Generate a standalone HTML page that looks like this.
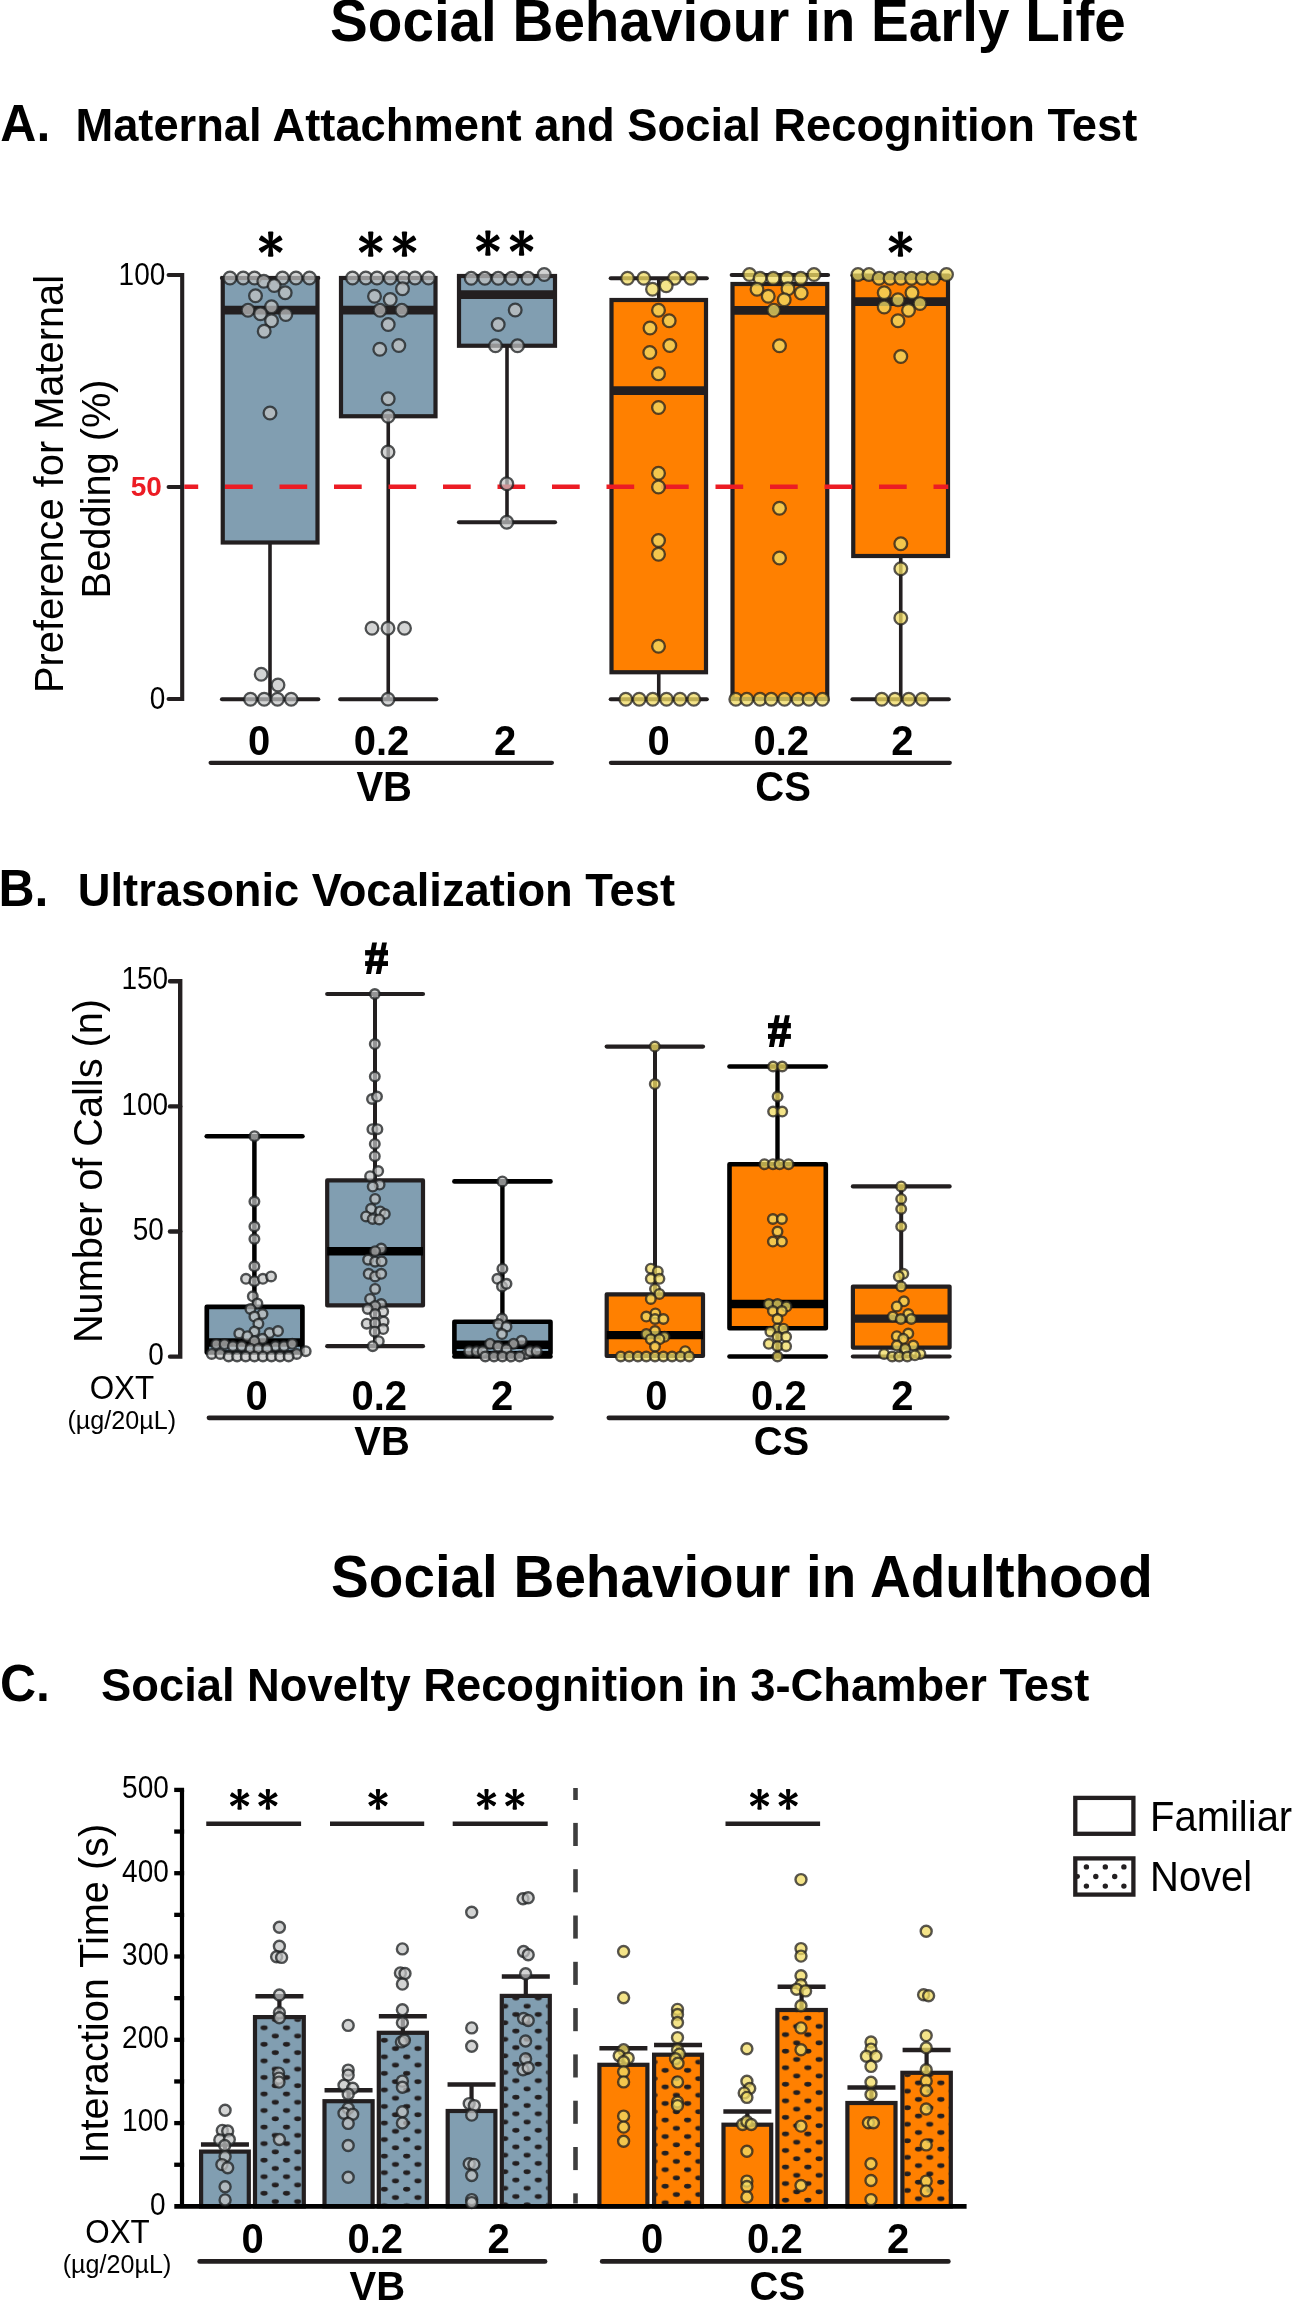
<!DOCTYPE html>
<html><head><meta charset="utf-8"><title>Social Behaviour</title>
<style>
html,body{margin:0;padding:0;background:#fff;}
body{width:1292px;height:2300px;overflow:hidden;}
svg{display:block;font-family:"Liberation Sans", sans-serif;will-change:transform;}
.g{fill:rgba(194,196,196,0.72);stroke:rgba(30,32,34,0.77);}
.y{fill:rgba(240,220,100,0.76);stroke:rgba(35,33,30,0.76);}
</style></head><body>
<svg width="1292" height="2300" viewBox="0 0 1292 2300">
<rect width="1292" height="2300" fill="#fff"/>
<text transform="translate(330.10,40.60) scale(1,1.04)" font-size="56.6" font-weight="bold" text-anchor="start" fill="#000" >Social Behaviour in Early Life</text>
<text transform="translate(331.10,1596.60) scale(1,1.04)" font-size="56.6" font-weight="bold" text-anchor="start" fill="#000" >Social Behaviour in Adulthood</text>
<text transform="translate(0.30,141.25) scale(1,1.04)" font-size="50" font-weight="bold" text-anchor="start" fill="#000" >A.</text>
<text transform="translate(75.40,141.25) scale(1,1.04)" font-size="45.3" font-weight="bold" text-anchor="start" fill="#000" >Maternal Attachment and Social Recognition Test</text>
<text transform="translate(-1.50,906.25) scale(1,1.04)" font-size="50" font-weight="bold" text-anchor="start" fill="#000" >B.</text>
<text transform="translate(77.80,906.25) scale(1,1.04)" font-size="45.3" font-weight="bold" text-anchor="start" fill="#000" >Ultrasonic Vocalization Test</text>
<text transform="translate(0.00,1701.00) scale(1,1.04)" font-size="50" font-weight="bold" text-anchor="start" fill="#000" >C.</text>
<text transform="translate(101.10,1701.00) scale(1,1.04)" font-size="45.3" font-weight="bold" text-anchor="start" fill="#000" >Social Novelty Recognition in 3-Chamber Test</text>
<text transform="translate(63.00,484.00) rotate(-90) scale(1,1.04)" font-size="39.8" font-weight="normal" text-anchor="middle" fill="#000" >Preference for Maternal</text>
<text transform="translate(110.00,488.90) rotate(-90) scale(1,1.04)" font-size="39.8" font-weight="normal" text-anchor="middle" fill="#000" >Bedding (%)</text>
<polyline points="168.6,275 182.2,275 182.2,699 168.6,699" fill="none" stroke="#231f20" stroke-width="4.1" stroke-linecap="round" stroke-linejoin="miter"/>
<line x1="168.60" y1="487.00" x2="182.20" y2="487.00" stroke="#231f20" stroke-width="4.1" stroke-linecap="round" />
<text transform="translate(165.30,284.80) scale(1,1.09)" font-size="28" font-weight="normal" text-anchor="end" fill="#000" >100</text>
<text transform="translate(161.80,496.20) scale(1,1.02)" font-size="28" font-weight="bold" text-anchor="end" fill="#ec1c24" >50</text>
<text transform="translate(165.30,708.80) scale(1,1.09)" font-size="28" font-weight="normal" text-anchor="end" fill="#000" >0</text>
<line x1="270.00" y1="278.00" x2="270.00" y2="699.25" stroke="#231f20" stroke-width="3.6" stroke-linecap="butt" />
<line x1="222.00" y1="278.00" x2="318.25" y2="278.00" stroke="#231f20" stroke-width="4.2" stroke-linecap="round" />
<line x1="222.00" y1="699.25" x2="318.25" y2="699.25" stroke="#231f20" stroke-width="4.2" stroke-linecap="round" />
<rect x="222.75" y="278.00" width="94.75" height="264.50" fill="#819eb1" stroke="#231f20" stroke-width="4.2" stroke-linejoin="miter" />
<line x1="222.75" y1="310.00" x2="317.50" y2="310.00" stroke="#231f20" stroke-width="8.75" stroke-linecap="butt" />
<line x1="388.25" y1="278.00" x2="388.25" y2="699.25" stroke="#231f20" stroke-width="3.6" stroke-linecap="butt" />
<line x1="340.25" y1="699.25" x2="436.25" y2="699.25" stroke="#231f20" stroke-width="4.2" stroke-linecap="round" />
<rect x="341.00" y="278.00" width="94.50" height="138.25" fill="#819eb1" stroke="#231f20" stroke-width="4.2" stroke-linejoin="miter" />
<line x1="341.00" y1="310.00" x2="435.50" y2="310.00" stroke="#231f20" stroke-width="8.75" stroke-linecap="butt" />
<line x1="507.00" y1="277.00" x2="507.00" y2="522.25" stroke="#231f20" stroke-width="3.6" stroke-linecap="butt" />
<line x1="459.00" y1="277.00" x2="555.00" y2="277.00" stroke="#231f20" stroke-width="4.2" stroke-linecap="round" />
<line x1="459.00" y1="522.25" x2="555.00" y2="522.25" stroke="#231f20" stroke-width="4.2" stroke-linecap="round" />
<rect x="459.00" y="276.00" width="96.00" height="69.75" fill="#819eb1" stroke="#231f20" stroke-width="4.2" stroke-linejoin="miter" />
<line x1="459.00" y1="294.50" x2="555.00" y2="294.50" stroke="#231f20" stroke-width="8.75" stroke-linecap="butt" />
<line x1="658.75" y1="278.25" x2="658.75" y2="699.25" stroke="#231f20" stroke-width="3.6" stroke-linecap="butt" />
<line x1="610.75" y1="278.25" x2="706.75" y2="278.25" stroke="#231f20" stroke-width="4.2" stroke-linecap="round" />
<line x1="610.75" y1="699.25" x2="706.75" y2="699.25" stroke="#231f20" stroke-width="4.2" stroke-linecap="round" />
<rect x="611.50" y="300.00" width="94.50" height="372.25" fill="#ff8000" stroke="#231f20" stroke-width="4.2" stroke-linejoin="miter" />
<line x1="611.50" y1="390.60" x2="706.00" y2="390.60" stroke="#231f20" stroke-width="8.75" stroke-linecap="butt" />
<line x1="779.90" y1="275.00" x2="779.90" y2="699.00" stroke="#231f20" stroke-width="3.6" stroke-linecap="butt" />
<line x1="731.75" y1="275.00" x2="828.00" y2="275.00" stroke="#231f20" stroke-width="4.2" stroke-linecap="round" />
<rect x="732.50" y="284.00" width="94.75" height="415.00" fill="#ff8000" stroke="#231f20" stroke-width="4.2" stroke-linejoin="miter" />
<line x1="732.50" y1="310.40" x2="827.25" y2="310.40" stroke="#231f20" stroke-width="8.75" stroke-linecap="butt" />
<line x1="900.75" y1="275.50" x2="900.75" y2="699.25" stroke="#231f20" stroke-width="3.6" stroke-linecap="butt" />
<line x1="852.50" y1="275.50" x2="948.75" y2="275.50" stroke="#231f20" stroke-width="4.2" stroke-linecap="round" />
<line x1="852.50" y1="699.25" x2="948.75" y2="699.25" stroke="#231f20" stroke-width="4.2" stroke-linecap="round" />
<rect x="853.25" y="278.00" width="94.75" height="278.00" fill="#ff8000" stroke="#231f20" stroke-width="4.2" stroke-linejoin="miter" />
<line x1="853.25" y1="301.60" x2="948.00" y2="301.60" stroke="#231f20" stroke-width="8.75" stroke-linecap="butt" />
<line x1="184.3" y1="486.75" x2="948.3" y2="486.75" stroke="#ec1c24" stroke-width="4.6" stroke-dasharray="27.7 26.8" stroke-dashoffset="13.8"/>
<g class="g" stroke-width="2.3">
<circle cx="230.0" cy="278.0" r="6.35"/>
<circle cx="243.2" cy="278.0" r="6.35"/>
<circle cx="254.5" cy="278.0" r="6.35"/>
<circle cx="282.5" cy="278.0" r="6.35"/>
<circle cx="296.0" cy="278.0" r="6.35"/>
<circle cx="309.5" cy="278.0" r="6.35"/>
<circle cx="263.8" cy="281.2" r="6.35"/>
<circle cx="274.2" cy="285.5" r="6.35"/>
<circle cx="285.2" cy="292.8" r="6.35"/>
<circle cx="255.5" cy="295.8" r="6.35"/>
<circle cx="271.5" cy="306.8" r="6.35"/>
<circle cx="248.0" cy="310.2" r="6.35"/>
<circle cx="260.5" cy="313.8" r="6.35"/>
<circle cx="285.8" cy="314.5" r="6.35"/>
<circle cx="271.5" cy="320.8" r="6.35"/>
<circle cx="264.2" cy="331.2" r="6.35"/>
<circle cx="270.0" cy="413.0" r="6.35"/>
<circle cx="261.2" cy="674.2" r="6.35"/>
<circle cx="278.0" cy="685.0" r="6.35"/>
<circle cx="250.5" cy="699.2" r="6.35"/>
<circle cx="264.2" cy="699.2" r="6.35"/>
<circle cx="277.5" cy="699.2" r="6.35"/>
<circle cx="291.2" cy="699.2" r="6.35"/>
<circle cx="352.5" cy="278.0" r="6.35"/>
<circle cx="365.8" cy="278.0" r="6.35"/>
<circle cx="377.0" cy="278.0" r="6.35"/>
<circle cx="390.2" cy="278.0" r="6.35"/>
<circle cx="403.8" cy="278.0" r="6.35"/>
<circle cx="415.0" cy="278.0" r="6.35"/>
<circle cx="428.5" cy="278.0" r="6.35"/>
<circle cx="402.5" cy="288.8" r="6.35"/>
<circle cx="374.5" cy="296.2" r="6.35"/>
<circle cx="390.2" cy="299.5" r="6.35"/>
<circle cx="380.0" cy="310.2" r="6.35"/>
<circle cx="401.8" cy="310.2" r="6.35"/>
<circle cx="388.2" cy="324.5" r="6.35"/>
<circle cx="398.8" cy="345.5" r="6.35"/>
<circle cx="379.8" cy="349.2" r="6.35"/>
<circle cx="388.2" cy="398.8" r="6.35"/>
<circle cx="388.2" cy="416.2" r="6.35"/>
<circle cx="388.0" cy="452.0" r="6.35"/>
<circle cx="372.0" cy="628.2" r="6.35"/>
<circle cx="388.0" cy="628.2" r="6.35"/>
<circle cx="404.5" cy="628.2" r="6.35"/>
<circle cx="388.0" cy="699.2" r="6.35"/>
<circle cx="471.2" cy="278.2" r="6.35"/>
<circle cx="484.8" cy="278.2" r="6.35"/>
<circle cx="498.2" cy="278.2" r="6.35"/>
<circle cx="511.8" cy="278.2" r="6.35"/>
<circle cx="528.0" cy="278.2" r="6.35"/>
<circle cx="544.2" cy="274.5" r="6.35"/>
<circle cx="515.2" cy="310.0" r="6.35"/>
<circle cx="498.2" cy="324.5" r="6.35"/>
<circle cx="495.5" cy="345.8" r="6.35"/>
<circle cx="517.5" cy="345.8" r="6.35"/>
<circle cx="506.8" cy="483.8" r="6.35"/>
<circle cx="506.8" cy="522.2" r="6.35"/>
</g>
<g class="y" stroke-width="2.3">
<circle cx="627.5" cy="278.2" r="6.35"/>
<circle cx="643.8" cy="278.2" r="6.35"/>
<circle cx="674.5" cy="278.2" r="6.35"/>
<circle cx="690.8" cy="278.2" r="6.35"/>
<circle cx="652.5" cy="289.2" r="6.35"/>
<circle cx="666.2" cy="285.8" r="6.35"/>
<circle cx="658.5" cy="310.2" r="6.35"/>
<circle cx="669.2" cy="320.8" r="6.35"/>
<circle cx="650.0" cy="328.0" r="6.35"/>
<circle cx="669.8" cy="345.5" r="6.35"/>
<circle cx="649.8" cy="352.5" r="6.35"/>
<circle cx="658.5" cy="373.8" r="6.35"/>
<circle cx="658.5" cy="407.5" r="6.35"/>
<circle cx="658.5" cy="473.2" r="6.35"/>
<circle cx="658.5" cy="487.0" r="6.35"/>
<circle cx="658.5" cy="540.5" r="6.35"/>
<circle cx="658.5" cy="554.2" r="6.35"/>
<circle cx="658.5" cy="646.2" r="6.35"/>
<circle cx="625.8" cy="699.2" r="6.35"/>
<circle cx="639.2" cy="699.2" r="6.35"/>
<circle cx="652.8" cy="699.2" r="6.35"/>
<circle cx="666.5" cy="699.2" r="6.35"/>
<circle cx="680.0" cy="699.2" r="6.35"/>
<circle cx="693.8" cy="699.2" r="6.35"/>
<circle cx="749.5" cy="274.5" r="6.35"/>
<circle cx="760.0" cy="278.2" r="6.35"/>
<circle cx="773.2" cy="278.2" r="6.35"/>
<circle cx="787.0" cy="278.2" r="6.35"/>
<circle cx="800.8" cy="278.2" r="6.35"/>
<circle cx="814.0" cy="274.5" r="6.35"/>
<circle cx="757.0" cy="289.2" r="6.35"/>
<circle cx="788.0" cy="288.8" r="6.35"/>
<circle cx="801.2" cy="293.0" r="6.35"/>
<circle cx="768.2" cy="296.2" r="6.35"/>
<circle cx="784.2" cy="299.8" r="6.35"/>
<circle cx="773.8" cy="310.2" r="6.35"/>
<circle cx="779.5" cy="345.8" r="6.35"/>
<circle cx="779.5" cy="508.2" r="6.35"/>
<circle cx="779.5" cy="558.0" r="6.35"/>
<circle cx="735.8" cy="699.2" r="6.35"/>
<circle cx="746.8" cy="699.2" r="6.35"/>
<circle cx="760.0" cy="699.2" r="6.35"/>
<circle cx="771.2" cy="699.2" r="6.35"/>
<circle cx="784.5" cy="699.2" r="6.35"/>
<circle cx="798.0" cy="699.2" r="6.35"/>
<circle cx="809.0" cy="699.2" r="6.35"/>
<circle cx="822.5" cy="699.2" r="6.35"/>
<circle cx="858.0" cy="274.5" r="6.35"/>
<circle cx="869.0" cy="274.5" r="6.35"/>
<circle cx="879.0" cy="278.2" r="6.35"/>
<circle cx="890.0" cy="278.2" r="6.35"/>
<circle cx="900.8" cy="278.2" r="6.35"/>
<circle cx="911.5" cy="278.2" r="6.35"/>
<circle cx="922.2" cy="278.2" r="6.35"/>
<circle cx="933.2" cy="278.2" r="6.35"/>
<circle cx="946.5" cy="274.5" r="6.35"/>
<circle cx="884.2" cy="292.8" r="6.35"/>
<circle cx="912.0" cy="292.8" r="6.35"/>
<circle cx="898.0" cy="299.8" r="6.35"/>
<circle cx="920.0" cy="303.5" r="6.35"/>
<circle cx="884.2" cy="307.0" r="6.35"/>
<circle cx="908.5" cy="310.2" r="6.35"/>
<circle cx="898.0" cy="320.8" r="6.35"/>
<circle cx="900.8" cy="356.5" r="6.35"/>
<circle cx="900.8" cy="543.8" r="6.35"/>
<circle cx="900.8" cy="568.8" r="6.35"/>
<circle cx="900.8" cy="618.0" r="6.35"/>
<circle cx="881.8" cy="699.2" r="6.35"/>
<circle cx="895.0" cy="699.2" r="6.35"/>
<circle cx="908.8" cy="699.2" r="6.35"/>
<circle cx="922.2" cy="699.2" r="6.35"/>
</g>
<g transform="translate(270.70,244.15)" fill="#000"><polygon points="-1.60,0 -2.70,-11.95 -2.00,-12.65 2.00,-12.65 2.70,-11.95 1.60,0" transform="rotate(0)"/><polygon points="-1.60,0 -2.70,-11.95 -2.00,-12.65 2.00,-12.65 2.70,-11.95 1.60,0" transform="rotate(58)"/><polygon points="-1.60,0 -2.70,-11.95 -2.00,-12.65 2.00,-12.65 2.70,-11.95 1.60,0" transform="rotate(122)"/><polygon points="-1.60,0 -2.70,-11.95 -2.00,-12.65 2.00,-12.65 2.70,-11.95 1.60,0" transform="rotate(180)"/><polygon points="-1.60,0 -2.70,-11.95 -2.00,-12.65 2.00,-12.65 2.70,-11.95 1.60,0" transform="rotate(238)"/><polygon points="-1.60,0 -2.70,-11.95 -2.00,-12.65 2.00,-12.65 2.70,-11.95 1.60,0" transform="rotate(302)"/></g>
<g transform="translate(370.73,244.15)" fill="#000"><polygon points="-1.60,0 -2.70,-11.95 -2.00,-12.65 2.00,-12.65 2.70,-11.95 1.60,0" transform="rotate(0)"/><polygon points="-1.60,0 -2.70,-11.95 -2.00,-12.65 2.00,-12.65 2.70,-11.95 1.60,0" transform="rotate(58)"/><polygon points="-1.60,0 -2.70,-11.95 -2.00,-12.65 2.00,-12.65 2.70,-11.95 1.60,0" transform="rotate(122)"/><polygon points="-1.60,0 -2.70,-11.95 -2.00,-12.65 2.00,-12.65 2.70,-11.95 1.60,0" transform="rotate(180)"/><polygon points="-1.60,0 -2.70,-11.95 -2.00,-12.65 2.00,-12.65 2.70,-11.95 1.60,0" transform="rotate(238)"/><polygon points="-1.60,0 -2.70,-11.95 -2.00,-12.65 2.00,-12.65 2.70,-11.95 1.60,0" transform="rotate(302)"/></g>
<g transform="translate(404.47,244.15)" fill="#000"><polygon points="-1.60,0 -2.70,-11.95 -2.00,-12.65 2.00,-12.65 2.70,-11.95 1.60,0" transform="rotate(0)"/><polygon points="-1.60,0 -2.70,-11.95 -2.00,-12.65 2.00,-12.65 2.70,-11.95 1.60,0" transform="rotate(58)"/><polygon points="-1.60,0 -2.70,-11.95 -2.00,-12.65 2.00,-12.65 2.70,-11.95 1.60,0" transform="rotate(122)"/><polygon points="-1.60,0 -2.70,-11.95 -2.00,-12.65 2.00,-12.65 2.70,-11.95 1.60,0" transform="rotate(180)"/><polygon points="-1.60,0 -2.70,-11.95 -2.00,-12.65 2.00,-12.65 2.70,-11.95 1.60,0" transform="rotate(238)"/><polygon points="-1.60,0 -2.70,-11.95 -2.00,-12.65 2.00,-12.65 2.70,-11.95 1.60,0" transform="rotate(302)"/></g>
<g transform="translate(487.90,243.07)" fill="#000"><polygon points="-1.60,0 -2.70,-11.95 -2.00,-12.65 2.00,-12.65 2.70,-11.95 1.60,0" transform="rotate(0)"/><polygon points="-1.60,0 -2.70,-11.95 -2.00,-12.65 2.00,-12.65 2.70,-11.95 1.60,0" transform="rotate(58)"/><polygon points="-1.60,0 -2.70,-11.95 -2.00,-12.65 2.00,-12.65 2.70,-11.95 1.60,0" transform="rotate(122)"/><polygon points="-1.60,0 -2.70,-11.95 -2.00,-12.65 2.00,-12.65 2.70,-11.95 1.60,0" transform="rotate(180)"/><polygon points="-1.60,0 -2.70,-11.95 -2.00,-12.65 2.00,-12.65 2.70,-11.95 1.60,0" transform="rotate(238)"/><polygon points="-1.60,0 -2.70,-11.95 -2.00,-12.65 2.00,-12.65 2.70,-11.95 1.60,0" transform="rotate(302)"/></g>
<g transform="translate(521.56,243.07)" fill="#000"><polygon points="-1.60,0 -2.70,-11.95 -2.00,-12.65 2.00,-12.65 2.70,-11.95 1.60,0" transform="rotate(0)"/><polygon points="-1.60,0 -2.70,-11.95 -2.00,-12.65 2.00,-12.65 2.70,-11.95 1.60,0" transform="rotate(58)"/><polygon points="-1.60,0 -2.70,-11.95 -2.00,-12.65 2.00,-12.65 2.70,-11.95 1.60,0" transform="rotate(122)"/><polygon points="-1.60,0 -2.70,-11.95 -2.00,-12.65 2.00,-12.65 2.70,-11.95 1.60,0" transform="rotate(180)"/><polygon points="-1.60,0 -2.70,-11.95 -2.00,-12.65 2.00,-12.65 2.70,-11.95 1.60,0" transform="rotate(238)"/><polygon points="-1.60,0 -2.70,-11.95 -2.00,-12.65 2.00,-12.65 2.70,-11.95 1.60,0" transform="rotate(302)"/></g>
<g transform="translate(900.46,244.15)" fill="#000"><polygon points="-1.60,0 -2.70,-11.95 -2.00,-12.65 2.00,-12.65 2.70,-11.95 1.60,0" transform="rotate(0)"/><polygon points="-1.60,0 -2.70,-11.95 -2.00,-12.65 2.00,-12.65 2.70,-11.95 1.60,0" transform="rotate(58)"/><polygon points="-1.60,0 -2.70,-11.95 -2.00,-12.65 2.00,-12.65 2.70,-11.95 1.60,0" transform="rotate(122)"/><polygon points="-1.60,0 -2.70,-11.95 -2.00,-12.65 2.00,-12.65 2.70,-11.95 1.60,0" transform="rotate(180)"/><polygon points="-1.60,0 -2.70,-11.95 -2.00,-12.65 2.00,-12.65 2.70,-11.95 1.60,0" transform="rotate(238)"/><polygon points="-1.60,0 -2.70,-11.95 -2.00,-12.65 2.00,-12.65 2.70,-11.95 1.60,0" transform="rotate(302)"/></g>
<text transform="translate(259.20,754.50) scale(1,1.07)" font-size="40" font-weight="bold" text-anchor="middle" fill="#000" >0</text>
<text transform="translate(381.50,754.50) scale(1,1.07)" font-size="40" font-weight="bold" text-anchor="middle" fill="#000" >0.2</text>
<text transform="translate(505.00,754.50) scale(1,1.07)" font-size="40" font-weight="bold" text-anchor="middle" fill="#000" >2</text>
<text transform="translate(658.60,754.50) scale(1,1.07)" font-size="40" font-weight="bold" text-anchor="middle" fill="#000" >0</text>
<text transform="translate(781.20,754.50) scale(1,1.07)" font-size="40" font-weight="bold" text-anchor="middle" fill="#000" >0.2</text>
<text transform="translate(902.40,754.50) scale(1,1.07)" font-size="40" font-weight="bold" text-anchor="middle" fill="#000" >2</text>
<line x1="210.60" y1="762.80" x2="551.90" y2="762.80" stroke="#231f20" stroke-width="4.2" stroke-linecap="round" />
<line x1="610.90" y1="762.80" x2="949.80" y2="762.80" stroke="#231f20" stroke-width="4.2" stroke-linecap="round" />
<text transform="translate(384.20,800.80) scale(1,1.04)" font-size="40" font-weight="bold" text-anchor="middle" fill="#000" >VB</text>
<text transform="translate(783.10,801.20) scale(1,1.04)" font-size="40" font-weight="bold" text-anchor="middle" fill="#000" >CS</text>
<text transform="translate(101.50,1171.00) rotate(-90) scale(1,1.04)" font-size="39.7" font-weight="normal" text-anchor="middle" fill="#000" >Number of Calls (n)</text>
<polyline points="170,981.2 180.2,981.2 180.2,1356.6 170,1356.6" fill="none" stroke="#231f20" stroke-width="4.4" stroke-linecap="round" stroke-linejoin="miter"/>
<line x1="170.00" y1="1106.40" x2="180.20" y2="1106.40" stroke="#231f20" stroke-width="4.4" stroke-linecap="round" />
<line x1="170.00" y1="1231.50" x2="180.20" y2="1231.50" stroke="#231f20" stroke-width="4.4" stroke-linecap="round" />
<text transform="translate(168.20,989.30) scale(1,1.09)" font-size="28" font-weight="normal" text-anchor="end" fill="#000" >150</text>
<text transform="translate(168.20,1114.50) scale(1,1.09)" font-size="28" font-weight="normal" text-anchor="end" fill="#000" >100</text>
<text transform="translate(163.90,1239.60) scale(1,1.09)" font-size="28" font-weight="normal" text-anchor="end" fill="#000" >50</text>
<text transform="translate(163.90,1364.70) scale(1,1.09)" font-size="28" font-weight="normal" text-anchor="end" fill="#000" >0</text>
<line x1="254.40" y1="1136.25" x2="254.40" y2="1352.50" stroke="#000" stroke-width="4.5" stroke-linecap="butt" />
<line x1="206.80" y1="1136.25" x2="302.40" y2="1136.25" stroke="#000" stroke-width="4.7" stroke-linecap="round" />
<rect x="206.80" y="1306.80" width="95.60" height="45.70" fill="#819eb1" stroke="#000" stroke-width="4.7" stroke-linejoin="round" />
<line x1="206.80" y1="1342.50" x2="302.40" y2="1342.50" stroke="#000" stroke-width="8.4" stroke-linecap="butt" />
<line x1="375.00" y1="994.00" x2="375.00" y2="1346.20" stroke="#231f20" stroke-width="4.0" stroke-linecap="butt" />
<line x1="327.20" y1="994.00" x2="423.00" y2="994.00" stroke="#231f20" stroke-width="4.2" stroke-linecap="round" />
<line x1="327.20" y1="1346.20" x2="423.00" y2="1346.20" stroke="#231f20" stroke-width="4.2" stroke-linecap="round" />
<rect x="327.20" y="1180.40" width="95.80" height="125.00" fill="#819eb1" stroke="#231f20" stroke-width="4.2" stroke-linejoin="round" />
<line x1="327.20" y1="1251.20" x2="423.00" y2="1251.20" stroke="#000" stroke-width="8.4" stroke-linecap="butt" />
<line x1="502.40" y1="1181.40" x2="502.40" y2="1356.50" stroke="#000" stroke-width="4.4" stroke-linecap="butt" />
<line x1="454.40" y1="1181.40" x2="550.50" y2="1181.40" stroke="#000" stroke-width="4.6" stroke-linecap="round" />
<line x1="454.40" y1="1356.50" x2="550.50" y2="1356.50" stroke="#000" stroke-width="4.6" stroke-linecap="round" />
<rect x="454.40" y="1321.70" width="96.10" height="31.60" fill="#819eb1" stroke="#000" stroke-width="4.6" stroke-linejoin="round" />
<line x1="454.40" y1="1344.80" x2="550.50" y2="1344.80" stroke="#000" stroke-width="8.4" stroke-linecap="butt" />
<line x1="655.00" y1="1046.60" x2="655.00" y2="1356.00" stroke="#231f20" stroke-width="4.0" stroke-linecap="butt" />
<line x1="606.70" y1="1046.60" x2="703.00" y2="1046.60" stroke="#231f20" stroke-width="4.2" stroke-linecap="round" />
<rect x="606.70" y="1294.30" width="96.30" height="61.70" fill="#ff8000" stroke="#231f20" stroke-width="4.2" stroke-linejoin="round" />
<line x1="606.70" y1="1335.10" x2="703.00" y2="1335.10" stroke="#000" stroke-width="8.4" stroke-linecap="butt" />
<line x1="777.50" y1="1066.50" x2="777.50" y2="1356.50" stroke="#000" stroke-width="4.4" stroke-linecap="butt" />
<line x1="729.50" y1="1066.50" x2="825.80" y2="1066.50" stroke="#000" stroke-width="4.6" stroke-linecap="round" />
<line x1="729.50" y1="1356.50" x2="825.80" y2="1356.50" stroke="#000" stroke-width="4.6" stroke-linecap="round" />
<rect x="729.50" y="1164.20" width="96.30" height="164.10" fill="#ff8000" stroke="#000" stroke-width="4.6" stroke-linejoin="round" />
<line x1="729.50" y1="1304.00" x2="825.80" y2="1304.00" stroke="#000" stroke-width="8.4" stroke-linecap="butt" />
<line x1="901.20" y1="1186.40" x2="901.20" y2="1356.50" stroke="#231f20" stroke-width="4.0" stroke-linecap="butt" />
<line x1="852.90" y1="1186.40" x2="949.60" y2="1186.40" stroke="#231f20" stroke-width="4.2" stroke-linecap="round" />
<line x1="852.90" y1="1356.50" x2="949.60" y2="1356.50" stroke="#231f20" stroke-width="4.2" stroke-linecap="round" />
<rect x="852.90" y="1286.60" width="96.70" height="61.00" fill="#ff8000" stroke="#231f20" stroke-width="4.2" stroke-linejoin="round" />
<line x1="852.90" y1="1318.60" x2="949.60" y2="1318.60" stroke="#231f20" stroke-width="8.4" stroke-linecap="butt" />
<g class="g" stroke-width="2.4">
<circle cx="254.5" cy="1136.2" r="4.8"/>
<circle cx="254.4" cy="1201.5" r="4.8"/>
<circle cx="254.4" cy="1226.5" r="4.8"/>
<circle cx="254.4" cy="1239.0" r="4.8"/>
<circle cx="254.4" cy="1266.3" r="4.8"/>
<circle cx="246.0" cy="1278.8" r="4.8"/>
<circle cx="254.4" cy="1281.2" r="4.8"/>
<circle cx="262.9" cy="1278.8" r="4.8"/>
<circle cx="271.1" cy="1276.4" r="4.8"/>
<circle cx="252.8" cy="1296.3" r="4.8"/>
<circle cx="257.4" cy="1303.6" r="4.8"/>
<circle cx="250.4" cy="1309.0" r="4.8"/>
<circle cx="262.5" cy="1314.0" r="4.8"/>
<circle cx="254.4" cy="1316.6" r="4.8"/>
<circle cx="258.4" cy="1323.7" r="4.8"/>
<circle cx="254.4" cy="1331.5" r="4.8"/>
<circle cx="239.3" cy="1333.5" r="4.8"/>
<circle cx="247.4" cy="1336.2" r="4.8"/>
<circle cx="269.5" cy="1333.1" r="4.8"/>
<circle cx="278.0" cy="1331.1" r="4.8"/>
<circle cx="262.5" cy="1338.8" r="4.8"/>
<circle cx="254.4" cy="1341.2" r="4.8"/>
<circle cx="216.2" cy="1344.2" r="4.8"/>
<circle cx="224.6" cy="1344.2" r="4.8"/>
<circle cx="232.9" cy="1346.2" r="4.8"/>
<circle cx="241.7" cy="1346.2" r="4.8"/>
<circle cx="275.5" cy="1346.2" r="4.8"/>
<circle cx="284.0" cy="1346.2" r="4.8"/>
<circle cx="292.2" cy="1343.8" r="4.8"/>
<circle cx="250.4" cy="1348.8" r="4.8"/>
<circle cx="258.4" cy="1348.8" r="4.8"/>
<circle cx="267.1" cy="1348.8" r="4.8"/>
<circle cx="305.7" cy="1351.2" r="4.8"/>
<circle cx="211.7" cy="1353.9" r="4.8"/>
<circle cx="220.2" cy="1353.9" r="4.8"/>
<circle cx="296.7" cy="1353.9" r="4.8"/>
<circle cx="228.6" cy="1356.5" r="4.8"/>
<circle cx="237.1" cy="1356.5" r="4.8"/>
<circle cx="245.7" cy="1356.5" r="4.8"/>
<circle cx="254.4" cy="1356.5" r="4.8"/>
<circle cx="262.9" cy="1356.5" r="4.8"/>
<circle cx="271.5" cy="1356.5" r="4.8"/>
<circle cx="280.0" cy="1356.5" r="4.8"/>
<circle cx="288.6" cy="1356.5" r="4.8"/>
<circle cx="374.8" cy="994.0" r="4.8"/>
<circle cx="374.8" cy="1044.1" r="4.8"/>
<circle cx="374.8" cy="1076.5" r="4.8"/>
<circle cx="372.0" cy="1099.0" r="4.8"/>
<circle cx="377.0" cy="1096.6" r="4.8"/>
<circle cx="372.4" cy="1129.2" r="4.8"/>
<circle cx="377.4" cy="1129.2" r="4.8"/>
<circle cx="374.8" cy="1143.9" r="4.8"/>
<circle cx="374.8" cy="1156.2" r="4.8"/>
<circle cx="378.2" cy="1171.1" r="4.8"/>
<circle cx="370.1" cy="1176.2" r="4.8"/>
<circle cx="379.6" cy="1184.6" r="4.8"/>
<circle cx="372.7" cy="1186.6" r="4.8"/>
<circle cx="375.1" cy="1198.9" r="4.8"/>
<circle cx="371.1" cy="1208.8" r="4.8"/>
<circle cx="380.2" cy="1211.4" r="4.8"/>
<circle cx="384.8" cy="1214.0" r="4.8"/>
<circle cx="366.1" cy="1216.4" r="4.8"/>
<circle cx="372.7" cy="1219.0" r="4.8"/>
<circle cx="379.2" cy="1219.4" r="4.8"/>
<circle cx="381.2" cy="1248.6" r="4.8"/>
<circle cx="375.1" cy="1251.2" r="4.8"/>
<circle cx="368.1" cy="1259.7" r="4.8"/>
<circle cx="375.1" cy="1261.7" r="4.8"/>
<circle cx="381.6" cy="1261.3" r="4.8"/>
<circle cx="368.7" cy="1273.8" r="4.8"/>
<circle cx="375.1" cy="1276.4" r="4.8"/>
<circle cx="381.2" cy="1273.8" r="4.8"/>
<circle cx="375.1" cy="1288.9" r="4.8"/>
<circle cx="370.1" cy="1298.9" r="4.8"/>
<circle cx="381.2" cy="1304.0" r="4.8"/>
<circle cx="375.1" cy="1306.0" r="4.8"/>
<circle cx="367.7" cy="1309.0" r="4.8"/>
<circle cx="383.2" cy="1311.6" r="4.8"/>
<circle cx="375.1" cy="1314.0" r="4.8"/>
<circle cx="383.6" cy="1321.5" r="4.8"/>
<circle cx="366.7" cy="1323.7" r="4.8"/>
<circle cx="375.1" cy="1323.1" r="4.8"/>
<circle cx="383.2" cy="1329.1" r="4.8"/>
<circle cx="374.7" cy="1331.7" r="4.8"/>
<circle cx="378.8" cy="1341.2" r="4.8"/>
<circle cx="372.7" cy="1346.2" r="4.8"/>
<circle cx="502.4" cy="1181.4" r="4.8"/>
<circle cx="502.4" cy="1268.7" r="4.8"/>
<circle cx="497.4" cy="1278.8" r="4.8"/>
<circle cx="502.0" cy="1286.4" r="4.8"/>
<circle cx="506.5" cy="1283.8" r="4.8"/>
<circle cx="502.0" cy="1318.6" r="4.8"/>
<circle cx="498.4" cy="1324.1" r="4.8"/>
<circle cx="506.5" cy="1326.7" r="4.8"/>
<circle cx="502.0" cy="1334.1" r="4.8"/>
<circle cx="521.6" cy="1340.8" r="4.8"/>
<circle cx="490.0" cy="1343.8" r="4.8"/>
<circle cx="513.5" cy="1343.8" r="4.8"/>
<circle cx="498.0" cy="1346.6" r="4.8"/>
<circle cx="506.5" cy="1349.2" r="4.8"/>
<circle cx="469.2" cy="1351.2" r="4.8"/>
<circle cx="476.7" cy="1351.2" r="4.8"/>
<circle cx="482.7" cy="1351.2" r="4.8"/>
<circle cx="526.2" cy="1353.9" r="4.8"/>
<circle cx="530.2" cy="1351.2" r="4.8"/>
<circle cx="536.7" cy="1351.2" r="4.8"/>
<circle cx="485.3" cy="1356.5" r="4.8"/>
<circle cx="494.0" cy="1356.5" r="4.8"/>
<circle cx="502.4" cy="1356.5" r="4.8"/>
<circle cx="511.1" cy="1356.5" r="4.8"/>
<circle cx="519.6" cy="1356.5" r="4.8"/>
</g>
<g class="y" stroke-width="2.4">
<circle cx="654.8" cy="1046.6" r="4.8"/>
<circle cx="654.8" cy="1084.1" r="4.8"/>
<circle cx="650.8" cy="1268.7" r="4.8"/>
<circle cx="657.8" cy="1271.4" r="4.8"/>
<circle cx="650.8" cy="1278.8" r="4.8"/>
<circle cx="659.4" cy="1278.8" r="4.8"/>
<circle cx="655.0" cy="1288.9" r="4.8"/>
<circle cx="659.4" cy="1293.9" r="4.8"/>
<circle cx="650.8" cy="1298.9" r="4.8"/>
<circle cx="655.4" cy="1313.4" r="4.8"/>
<circle cx="646.3" cy="1316.6" r="4.8"/>
<circle cx="655.0" cy="1319.0" r="4.8"/>
<circle cx="663.4" cy="1319.0" r="4.8"/>
<circle cx="655.0" cy="1331.1" r="4.8"/>
<circle cx="646.3" cy="1334.1" r="4.8"/>
<circle cx="664.5" cy="1336.8" r="4.8"/>
<circle cx="650.8" cy="1339.2" r="4.8"/>
<circle cx="659.4" cy="1339.2" r="4.8"/>
<circle cx="655.0" cy="1346.6" r="4.8"/>
<circle cx="685.2" cy="1351.2" r="4.8"/>
<circle cx="620.8" cy="1356.5" r="4.8"/>
<circle cx="629.2" cy="1356.5" r="4.8"/>
<circle cx="637.9" cy="1356.5" r="4.8"/>
<circle cx="646.3" cy="1356.5" r="4.8"/>
<circle cx="655.0" cy="1356.5" r="4.8"/>
<circle cx="663.4" cy="1356.5" r="4.8"/>
<circle cx="672.1" cy="1356.5" r="4.8"/>
<circle cx="680.6" cy="1356.5" r="4.8"/>
<circle cx="689.2" cy="1356.5" r="4.8"/>
<circle cx="773.1" cy="1066.5" r="4.8"/>
<circle cx="782.2" cy="1066.5" r="4.8"/>
<circle cx="777.6" cy="1096.5" r="4.8"/>
<circle cx="773.1" cy="1111.6" r="4.8"/>
<circle cx="782.2" cy="1111.6" r="4.8"/>
<circle cx="764.5" cy="1164.2" r="4.8"/>
<circle cx="773.0" cy="1164.2" r="4.8"/>
<circle cx="779.6" cy="1164.2" r="4.8"/>
<circle cx="788.5" cy="1164.2" r="4.8"/>
<circle cx="772.9" cy="1219.0" r="4.8"/>
<circle cx="781.9" cy="1219.0" r="4.8"/>
<circle cx="777.5" cy="1231.5" r="4.8"/>
<circle cx="772.9" cy="1241.6" r="4.8"/>
<circle cx="781.9" cy="1241.6" r="4.8"/>
<circle cx="768.8" cy="1304.0" r="4.8"/>
<circle cx="777.5" cy="1304.0" r="4.8"/>
<circle cx="786.5" cy="1306.4" r="4.8"/>
<circle cx="772.9" cy="1311.0" r="4.8"/>
<circle cx="781.9" cy="1311.0" r="4.8"/>
<circle cx="777.5" cy="1319.0" r="4.8"/>
<circle cx="777.5" cy="1328.7" r="4.8"/>
<circle cx="783.5" cy="1328.7" r="4.8"/>
<circle cx="770.4" cy="1331.7" r="4.8"/>
<circle cx="777.5" cy="1336.8" r="4.8"/>
<circle cx="786.1" cy="1336.8" r="4.8"/>
<circle cx="768.8" cy="1343.8" r="4.8"/>
<circle cx="777.5" cy="1346.2" r="4.8"/>
<circle cx="786.1" cy="1346.2" r="4.8"/>
<circle cx="777.5" cy="1356.5" r="4.8"/>
<circle cx="901.2" cy="1186.4" r="4.8"/>
<circle cx="901.2" cy="1198.9" r="4.8"/>
<circle cx="901.2" cy="1209.0" r="4.8"/>
<circle cx="901.2" cy="1226.5" r="4.8"/>
<circle cx="903.3" cy="1273.8" r="4.8"/>
<circle cx="898.8" cy="1276.4" r="4.8"/>
<circle cx="901.2" cy="1286.4" r="4.8"/>
<circle cx="903.9" cy="1301.3" r="4.8"/>
<circle cx="896.8" cy="1306.4" r="4.8"/>
<circle cx="908.3" cy="1314.0" r="4.8"/>
<circle cx="892.8" cy="1316.6" r="4.8"/>
<circle cx="900.8" cy="1319.0" r="4.8"/>
<circle cx="911.3" cy="1319.0" r="4.8"/>
<circle cx="908.3" cy="1333.5" r="4.8"/>
<circle cx="896.8" cy="1336.2" r="4.8"/>
<circle cx="903.3" cy="1338.8" r="4.8"/>
<circle cx="896.8" cy="1345.6" r="4.8"/>
<circle cx="913.3" cy="1345.6" r="4.8"/>
<circle cx="905.3" cy="1348.8" r="4.8"/>
<circle cx="884.1" cy="1353.9" r="4.8"/>
<circle cx="920.4" cy="1353.9" r="4.8"/>
<circle cx="892.2" cy="1356.5" r="4.8"/>
<circle cx="899.2" cy="1356.5" r="4.8"/>
<circle cx="907.3" cy="1356.5" r="4.8"/>
<circle cx="914.9" cy="1355.3" r="4.8"/>
</g>
<g transform="translate(0,0)" fill="#000"><polygon points="372.2,942.4 377.0,942.4 371.0,974.0 366.0,974.0"/><polygon points="382.1,942.4 386.9,942.4 380.7,974.0 375.8,974.0"/><rect x="365.1" y="950.1" width="22.9" height="5.3"/><rect x="365.1" y="961.1" width="22.9" height="4.9"/></g>
<g transform="translate(402.9,72.9)" fill="#000"><polygon points="372.2,942.4 377.0,942.4 371.0,974.0 366.0,974.0"/><polygon points="382.1,942.4 386.9,942.4 380.7,974.0 375.8,974.0"/><rect x="365.1" y="950.1" width="22.9" height="5.3"/><rect x="365.1" y="961.1" width="22.9" height="4.9"/></g>
<text transform="translate(256.70,1409.70) scale(1,1.07)" font-size="40" font-weight="bold" text-anchor="middle" fill="#000" >0</text>
<text transform="translate(379.30,1409.70) scale(1,1.07)" font-size="40" font-weight="bold" text-anchor="middle" fill="#000" >0.2</text>
<text transform="translate(502.20,1409.70) scale(1,1.07)" font-size="40" font-weight="bold" text-anchor="middle" fill="#000" >2</text>
<text transform="translate(656.30,1409.70) scale(1,1.07)" font-size="40" font-weight="bold" text-anchor="middle" fill="#000" >0</text>
<text transform="translate(778.90,1409.70) scale(1,1.07)" font-size="40" font-weight="bold" text-anchor="middle" fill="#000" >0.2</text>
<text transform="translate(902.40,1409.70) scale(1,1.07)" font-size="40" font-weight="bold" text-anchor="middle" fill="#000" >2</text>
<line x1="209.00" y1="1417.80" x2="551.50" y2="1417.80" stroke="#231f20" stroke-width="4.8" stroke-linecap="round" />
<line x1="608.90" y1="1417.80" x2="947.20" y2="1417.80" stroke="#231f20" stroke-width="4.8" stroke-linecap="round" />
<text transform="translate(382.00,1455.40) scale(1,1.015)" font-size="40" font-weight="bold" text-anchor="middle" fill="#000" >VB</text>
<text transform="translate(781.50,1455.40) scale(1,1.015)" font-size="40" font-weight="bold" text-anchor="middle" fill="#000" >CS</text>
<text transform="translate(121.90,1398.50) scale(1,1.04)" font-size="31.4" font-weight="normal" text-anchor="middle" fill="#000" >OXT</text>
<text transform="translate(121.70,1428.60) scale(1,1.04)" font-size="25" font-weight="normal" text-anchor="middle" fill="#000" textLength="108.6" lengthAdjust="spacingAndGlyphs">(µg/20µL)</text>
<text transform="translate(107.50,1993.70) rotate(-90) scale(1,1.04)" font-size="39.7" font-weight="normal" text-anchor="middle" fill="#000" >Interaction Time (s)</text>
<line x1="224.95" y1="2144.50" x2="224.95" y2="2151.60" stroke="#231f20" stroke-width="4.2" stroke-linecap="butt" />
<rect x="201.10" y="2151.60" width="47.70" height="54.80" fill="#819eb1" stroke="#231f20" stroke-width="4.2" stroke-linejoin="miter" />
<line x1="200.95" y1="2144.50" x2="248.95" y2="2144.50" stroke="#231f20" stroke-width="4.5" stroke-linecap="butt" />
<line x1="279.40" y1="1996.20" x2="279.40" y2="2017.10" stroke="#231f20" stroke-width="4.2" stroke-linecap="butt" />
<rect x="255.00" y="2017.10" width="48.80" height="189.30" fill="#819eb1" stroke="#231f20" stroke-width="4.2" stroke-linejoin="miter" />
<pattern id="p1" x="12.10" y="4.56" width="22.4" height="16.55" patternUnits="userSpaceOnUse"><ellipse cx="5.60" cy="4.14" rx="3.55" ry="2.35" fill="#231f20"/><ellipse cx="16.80" cy="12.41" rx="3.55" ry="2.35" fill="#231f20"/></pattern>
<rect x="257.10" y="2019.20" width="44.60" height="187.20" fill="url(#p1)"/>
<line x1="255.40" y1="1996.20" x2="303.40" y2="1996.20" stroke="#231f20" stroke-width="4.5" stroke-linecap="butt" />
<line x1="348.55" y1="2090.20" x2="348.55" y2="2101.20" stroke="#231f20" stroke-width="4.2" stroke-linecap="butt" />
<rect x="324.50" y="2101.20" width="48.10" height="105.20" fill="#819eb1" stroke="#231f20" stroke-width="4.2" stroke-linejoin="miter" />
<line x1="324.55" y1="2090.20" x2="372.55" y2="2090.20" stroke="#231f20" stroke-width="4.5" stroke-linecap="butt" />
<line x1="402.85" y1="2016.30" x2="402.85" y2="2032.80" stroke="#231f20" stroke-width="4.2" stroke-linecap="butt" />
<rect x="378.80" y="2032.80" width="48.10" height="173.60" fill="#819eb1" stroke="#231f20" stroke-width="4.2" stroke-linejoin="miter" />
<pattern id="p3" x="-2.10" y="0.51" width="22.4" height="16.55" patternUnits="userSpaceOnUse"><ellipse cx="5.60" cy="4.14" rx="3.55" ry="2.35" fill="#231f20"/><ellipse cx="16.80" cy="12.41" rx="3.55" ry="2.35" fill="#231f20"/></pattern>
<rect x="380.90" y="2034.90" width="43.90" height="171.50" fill="url(#p3)"/>
<line x1="378.85" y1="2016.30" x2="426.85" y2="2016.30" stroke="#231f20" stroke-width="4.5" stroke-linecap="butt" />
<line x1="471.55" y1="2084.50" x2="471.55" y2="2111.00" stroke="#231f20" stroke-width="4.2" stroke-linecap="butt" />
<rect x="447.70" y="2111.00" width="47.70" height="95.40" fill="#819eb1" stroke="#231f20" stroke-width="4.2" stroke-linejoin="miter" />
<line x1="447.55" y1="2084.50" x2="495.55" y2="2084.50" stroke="#231f20" stroke-width="4.5" stroke-linecap="butt" />
<line x1="525.80" y1="1976.60" x2="525.80" y2="1995.90" stroke="#231f20" stroke-width="4.2" stroke-linecap="butt" />
<rect x="501.80" y="1995.90" width="48.00" height="210.50" fill="#819eb1" stroke="#231f20" stroke-width="4.2" stroke-linejoin="miter" />
<pattern id="p5" x="-4.90" y="7.81" width="22.4" height="16.55" patternUnits="userSpaceOnUse"><ellipse cx="5.60" cy="4.14" rx="3.55" ry="2.35" fill="#231f20"/><ellipse cx="16.80" cy="12.41" rx="3.55" ry="2.35" fill="#231f20"/></pattern>
<rect x="503.90" y="1998.00" width="43.80" height="208.40" fill="url(#p5)"/>
<line x1="501.80" y1="1976.60" x2="549.80" y2="1976.60" stroke="#231f20" stroke-width="4.5" stroke-linecap="butt" />
<line x1="623.40" y1="2048.30" x2="623.40" y2="2064.80" stroke="#231f20" stroke-width="4.2" stroke-linecap="butt" />
<rect x="599.40" y="2064.80" width="48.00" height="141.60" fill="#ff8000" stroke="#231f20" stroke-width="4.2" stroke-linejoin="miter" />
<line x1="599.40" y1="2048.30" x2="647.40" y2="2048.30" stroke="#231f20" stroke-width="4.5" stroke-linecap="butt" />
<line x1="678.05" y1="2045.00" x2="678.05" y2="2054.70" stroke="#231f20" stroke-width="4.2" stroke-linecap="butt" />
<rect x="654.10" y="2054.70" width="47.90" height="151.70" fill="#ff8000" stroke="#231f20" stroke-width="4.2" stroke-linejoin="miter" />
<pattern id="p7" x="10.00" y="-2.49" width="22.4" height="16.55" patternUnits="userSpaceOnUse"><ellipse cx="5.60" cy="4.14" rx="3.55" ry="2.35" fill="#231f20"/><ellipse cx="16.80" cy="12.41" rx="3.55" ry="2.35" fill="#231f20"/></pattern>
<rect x="656.20" y="2056.80" width="43.70" height="149.60" fill="url(#p7)"/>
<line x1="654.05" y1="2045.00" x2="702.05" y2="2045.00" stroke="#231f20" stroke-width="4.5" stroke-linecap="butt" />
<line x1="747.35" y1="2111.50" x2="747.35" y2="2124.70" stroke="#231f20" stroke-width="4.2" stroke-linecap="butt" />
<rect x="723.50" y="2124.70" width="47.70" height="81.70" fill="#ff8000" stroke="#231f20" stroke-width="4.2" stroke-linejoin="miter" />
<line x1="723.35" y1="2111.50" x2="771.35" y2="2111.50" stroke="#231f20" stroke-width="4.5" stroke-linecap="butt" />
<line x1="801.60" y1="1986.70" x2="801.60" y2="2010.00" stroke="#231f20" stroke-width="4.2" stroke-linecap="butt" />
<rect x="777.40" y="2010.00" width="48.40" height="196.40" fill="#ff8000" stroke="#231f20" stroke-width="4.2" stroke-linejoin="miter" />
<pattern id="p9" x="-4.10" y="11.41" width="22.4" height="16.55" patternUnits="userSpaceOnUse"><ellipse cx="5.60" cy="4.14" rx="3.55" ry="2.35" fill="#231f20"/><ellipse cx="16.80" cy="12.41" rx="3.55" ry="2.35" fill="#231f20"/></pattern>
<rect x="779.50" y="2012.10" width="44.20" height="194.30" fill="url(#p9)"/>
<line x1="777.60" y1="1986.70" x2="825.60" y2="1986.70" stroke="#231f20" stroke-width="4.5" stroke-linecap="butt" />
<line x1="871.45" y1="2087.50" x2="871.45" y2="2103.00" stroke="#231f20" stroke-width="4.2" stroke-linecap="butt" />
<rect x="847.40" y="2103.00" width="48.10" height="103.40" fill="#ff8000" stroke="#231f20" stroke-width="4.2" stroke-linejoin="miter" />
<line x1="847.45" y1="2087.50" x2="895.45" y2="2087.50" stroke="#231f20" stroke-width="4.5" stroke-linecap="butt" />
<line x1="926.60" y1="2050.10" x2="926.60" y2="2072.80" stroke="#231f20" stroke-width="4.2" stroke-linecap="butt" />
<rect x="902.40" y="2072.80" width="48.40" height="133.60" fill="#ff8000" stroke="#231f20" stroke-width="4.2" stroke-linejoin="miter" />
<pattern id="p11" x="-5.50" y="10.01" width="22.4" height="16.55" patternUnits="userSpaceOnUse"><ellipse cx="5.60" cy="4.14" rx="3.55" ry="2.35" fill="#231f20"/><ellipse cx="16.80" cy="12.41" rx="3.55" ry="2.35" fill="#231f20"/></pattern>
<rect x="904.50" y="2074.90" width="44.20" height="131.50" fill="url(#p11)"/>
<line x1="902.60" y1="2050.10" x2="950.60" y2="2050.10" stroke="#231f20" stroke-width="4.5" stroke-linecap="butt" />
<line x1="182.00" y1="1789.90" x2="182.00" y2="2206.40" stroke="#000" stroke-width="4.2" stroke-linecap="butt" />
<line x1="174.30" y1="2206.40" x2="966.60" y2="2206.40" stroke="#000" stroke-width="4.7" stroke-linecap="butt" />
<line x1="174.20" y1="1789.90" x2="184.10" y2="1789.90" stroke="#000" stroke-width="4.3" stroke-linecap="butt" />
<line x1="174.20" y1="1831.55" x2="184.10" y2="1831.55" stroke="#000" stroke-width="4.3" stroke-linecap="butt" />
<line x1="174.20" y1="1873.20" x2="184.10" y2="1873.20" stroke="#000" stroke-width="4.3" stroke-linecap="butt" />
<line x1="174.20" y1="1914.85" x2="184.10" y2="1914.85" stroke="#000" stroke-width="4.3" stroke-linecap="butt" />
<line x1="174.20" y1="1956.50" x2="184.10" y2="1956.50" stroke="#000" stroke-width="4.3" stroke-linecap="butt" />
<line x1="174.20" y1="1998.15" x2="184.10" y2="1998.15" stroke="#000" stroke-width="4.3" stroke-linecap="butt" />
<line x1="174.20" y1="2039.80" x2="184.10" y2="2039.80" stroke="#000" stroke-width="4.3" stroke-linecap="butt" />
<line x1="174.20" y1="2081.45" x2="184.10" y2="2081.45" stroke="#000" stroke-width="4.3" stroke-linecap="butt" />
<line x1="174.20" y1="2123.10" x2="184.10" y2="2123.10" stroke="#000" stroke-width="4.3" stroke-linecap="butt" />
<line x1="174.20" y1="2164.75" x2="184.10" y2="2164.75" stroke="#000" stroke-width="4.3" stroke-linecap="butt" />
<text transform="translate(168.80,1798.20) scale(1,1.09)" font-size="28" font-weight="normal" text-anchor="end" fill="#000" >500</text>
<text transform="translate(168.80,1881.50) scale(1,1.09)" font-size="28" font-weight="normal" text-anchor="end" fill="#000" >400</text>
<text transform="translate(168.80,1964.80) scale(1,1.09)" font-size="28" font-weight="normal" text-anchor="end" fill="#000" >300</text>
<text transform="translate(168.80,2048.10) scale(1,1.09)" font-size="28" font-weight="normal" text-anchor="end" fill="#000" >200</text>
<text transform="translate(168.80,2131.40) scale(1,1.09)" font-size="28" font-weight="normal" text-anchor="end" fill="#000" >100</text>
<text transform="translate(165.50,2214.70) scale(1,1.09)" font-size="28" font-weight="normal" text-anchor="end" fill="#000" >0</text>
<line x1="575.50" y1="1788.00" x2="575.50" y2="1800.00" stroke="#3e3e3e" stroke-width="4.6" stroke-linecap="butt" />
<line x1="575.50" y1="1822.90" x2="575.50" y2="1846.00" stroke="#3e3e3e" stroke-width="4.6" stroke-linecap="butt" />
<line x1="575.50" y1="1869.20" x2="575.50" y2="1892.30" stroke="#3e3e3e" stroke-width="4.6" stroke-linecap="butt" />
<line x1="575.50" y1="1915.50" x2="575.50" y2="1938.60" stroke="#3e3e3e" stroke-width="4.6" stroke-linecap="butt" />
<line x1="575.50" y1="1961.80" x2="575.50" y2="1984.90" stroke="#3e3e3e" stroke-width="4.6" stroke-linecap="butt" />
<line x1="575.50" y1="2008.10" x2="575.50" y2="2031.20" stroke="#3e3e3e" stroke-width="4.6" stroke-linecap="butt" />
<line x1="575.50" y1="2054.40" x2="575.50" y2="2077.50" stroke="#3e3e3e" stroke-width="4.6" stroke-linecap="butt" />
<line x1="575.50" y1="2100.70" x2="575.50" y2="2123.80" stroke="#3e3e3e" stroke-width="4.6" stroke-linecap="butt" />
<line x1="575.50" y1="2147.00" x2="575.50" y2="2170.10" stroke="#3e3e3e" stroke-width="4.6" stroke-linecap="butt" />
<line x1="575.50" y1="2193.30" x2="575.50" y2="2203.50" stroke="#3e3e3e" stroke-width="4.6" stroke-linecap="butt" />
<g class="g" stroke-width="2.4">
<circle cx="225.1" cy="2110.3" r="5.5"/>
<circle cx="222.3" cy="2130.4" r="5.5"/>
<circle cx="227.7" cy="2131.0" r="5.5"/>
<circle cx="219.8" cy="2139.9" r="5.5"/>
<circle cx="229.3" cy="2139.5" r="5.5"/>
<circle cx="224.7" cy="2145.5" r="5.5"/>
<circle cx="225.1" cy="2156.6" r="5.5"/>
<circle cx="221.9" cy="2164.6" r="5.5"/>
<circle cx="227.7" cy="2167.7" r="5.5"/>
<circle cx="225.1" cy="2186.8" r="5.5"/>
<circle cx="225.1" cy="2199.9" r="5.5"/>
<circle cx="279.4" cy="1927.2" r="5.5"/>
<circle cx="279.4" cy="1946.3" r="5.5"/>
<circle cx="276.6" cy="1956.8" r="5.5"/>
<circle cx="281.6" cy="1957.4" r="5.5"/>
<circle cx="279.4" cy="1995.0" r="5.5"/>
<circle cx="279.4" cy="2012.7" r="5.5"/>
<circle cx="279.4" cy="2017.7" r="5.5"/>
<circle cx="278.6" cy="2073.1" r="5.5"/>
<circle cx="279.0" cy="2078.1" r="5.5"/>
<circle cx="279.0" cy="2082.1" r="5.5"/>
<circle cx="279.4" cy="2139.5" r="5.5"/>
<circle cx="348.2" cy="2025.4" r="5.5"/>
<circle cx="348.2" cy="2070.1" r="5.5"/>
<circle cx="348.2" cy="2075.1" r="5.5"/>
<circle cx="344.0" cy="2085.2" r="5.5"/>
<circle cx="352.7" cy="2088.2" r="5.5"/>
<circle cx="348.2" cy="2094.2" r="5.5"/>
<circle cx="348.2" cy="2108.3" r="5.5"/>
<circle cx="344.0" cy="2113.3" r="5.5"/>
<circle cx="352.7" cy="2114.3" r="5.5"/>
<circle cx="348.2" cy="2123.4" r="5.5"/>
<circle cx="348.2" cy="2145.5" r="5.5"/>
<circle cx="348.2" cy="2177.3" r="5.5"/>
<circle cx="402.4" cy="1948.9" r="5.5"/>
<circle cx="400.4" cy="1972.9" r="5.5"/>
<circle cx="405.0" cy="1973.5" r="5.5"/>
<circle cx="402.4" cy="1984.1" r="5.5"/>
<circle cx="402.4" cy="2009.7" r="5.5"/>
<circle cx="402.4" cy="2022.8" r="5.5"/>
<circle cx="401.4" cy="2041.9" r="5.5"/>
<circle cx="404.4" cy="2040.3" r="5.5"/>
<circle cx="402.4" cy="2081.1" r="5.5"/>
<circle cx="402.4" cy="2087.2" r="5.5"/>
<circle cx="402.4" cy="2111.7" r="5.5"/>
<circle cx="402.4" cy="2123.0" r="5.5"/>
<circle cx="471.7" cy="1912.2" r="5.5"/>
<circle cx="471.7" cy="2027.9" r="5.5"/>
<circle cx="471.7" cy="2046.3" r="5.5"/>
<circle cx="469.2" cy="2103.6" r="5.5"/>
<circle cx="474.3" cy="2105.6" r="5.5"/>
<circle cx="471.7" cy="2115.1" r="5.5"/>
<circle cx="469.2" cy="2163.8" r="5.5"/>
<circle cx="473.9" cy="2164.4" r="5.5"/>
<circle cx="471.7" cy="2175.5" r="5.5"/>
<circle cx="471.7" cy="2199.6" r="5.5"/>
<circle cx="471.7" cy="2202.6" r="5.5"/>
<circle cx="523.0" cy="1898.7" r="5.5"/>
<circle cx="528.2" cy="1897.7" r="5.5"/>
<circle cx="523.6" cy="1951.5" r="5.5"/>
<circle cx="528.2" cy="1954.7" r="5.5"/>
<circle cx="525.6" cy="1973.8" r="5.5"/>
<circle cx="523.6" cy="2018.5" r="5.5"/>
<circle cx="528.2" cy="2020.5" r="5.5"/>
<circle cx="525.6" cy="2041.0" r="5.5"/>
<circle cx="525.6" cy="2058.7" r="5.5"/>
<circle cx="523.0" cy="2069.8" r="5.5"/>
<circle cx="528.2" cy="2067.8" r="5.5"/>
</g>
<g class="y" stroke-width="2.4">
<circle cx="623.6" cy="1951.5" r="5.5"/>
<circle cx="623.6" cy="1997.7" r="5.5"/>
<circle cx="623.6" cy="2049.7" r="5.5"/>
<circle cx="619.2" cy="2055.7" r="5.5"/>
<circle cx="628.2" cy="2058.1" r="5.5"/>
<circle cx="623.6" cy="2061.7" r="5.5"/>
<circle cx="623.6" cy="2071.8" r="5.5"/>
<circle cx="623.6" cy="2081.9" r="5.5"/>
<circle cx="623.6" cy="2116.1" r="5.5"/>
<circle cx="623.6" cy="2127.1" r="5.5"/>
<circle cx="623.6" cy="2141.2" r="5.5"/>
<circle cx="677.5" cy="2009.4" r="5.5"/>
<circle cx="677.5" cy="2014.5" r="5.5"/>
<circle cx="677.5" cy="2022.5" r="5.5"/>
<circle cx="677.5" cy="2037.6" r="5.5"/>
<circle cx="677.5" cy="2049.7" r="5.5"/>
<circle cx="679.5" cy="2054.1" r="5.5"/>
<circle cx="675.5" cy="2058.7" r="5.5"/>
<circle cx="678.0" cy="2063.2" r="5.5"/>
<circle cx="677.5" cy="2081.9" r="5.5"/>
<circle cx="677.5" cy="2102.0" r="5.5"/>
<circle cx="677.5" cy="2105.6" r="5.5"/>
<circle cx="746.9" cy="2048.7" r="5.5"/>
<circle cx="746.9" cy="2081.3" r="5.5"/>
<circle cx="749.7" cy="2088.5" r="5.5"/>
<circle cx="744.2" cy="2092.9" r="5.5"/>
<circle cx="746.9" cy="2097.4" r="5.5"/>
<circle cx="742.6" cy="2124.5" r="5.5"/>
<circle cx="746.9" cy="2121.5" r="5.5"/>
<circle cx="751.3" cy="2124.5" r="5.5"/>
<circle cx="746.9" cy="2151.3" r="5.5"/>
<circle cx="746.9" cy="2181.1" r="5.5"/>
<circle cx="746.9" cy="2186.5" r="5.5"/>
<circle cx="746.9" cy="2197.0" r="5.5"/>
<circle cx="801.0" cy="1879.6" r="5.5"/>
<circle cx="801.0" cy="1948.6" r="5.5"/>
<circle cx="801.0" cy="1956.1" r="5.5"/>
<circle cx="801.0" cy="1975.8" r="5.5"/>
<circle cx="801.0" cy="1984.7" r="5.5"/>
<circle cx="796.6" cy="1989.3" r="5.5"/>
<circle cx="805.6" cy="1990.9" r="5.5"/>
<circle cx="801.0" cy="2005.8" r="5.5"/>
<circle cx="801.0" cy="2027.9" r="5.5"/>
<circle cx="801.0" cy="2049.7" r="5.5"/>
<circle cx="801.0" cy="2126.1" r="5.5"/>
<circle cx="801.0" cy="2185.5" r="5.5"/>
<circle cx="871.0" cy="2042.0" r="5.5"/>
<circle cx="871.0" cy="2049.1" r="5.5"/>
<circle cx="866.4" cy="2056.3" r="5.5"/>
<circle cx="875.9" cy="2056.3" r="5.5"/>
<circle cx="871.0" cy="2066.4" r="5.5"/>
<circle cx="871.0" cy="2082.3" r="5.5"/>
<circle cx="871.0" cy="2094.5" r="5.5"/>
<circle cx="868.4" cy="2122.7" r="5.5"/>
<circle cx="873.4" cy="2122.7" r="5.5"/>
<circle cx="871.0" cy="2163.8" r="5.5"/>
<circle cx="871.0" cy="2180.5" r="5.5"/>
<circle cx="871.0" cy="2199.6" r="5.5"/>
<circle cx="926.2" cy="1931.3" r="5.5"/>
<circle cx="923.6" cy="1994.7" r="5.5"/>
<circle cx="928.6" cy="1995.7" r="5.5"/>
<circle cx="926.2" cy="2035.6" r="5.5"/>
<circle cx="926.2" cy="2047.7" r="5.5"/>
<circle cx="926.2" cy="2069.8" r="5.5"/>
<circle cx="926.2" cy="2080.9" r="5.5"/>
<circle cx="926.2" cy="2090.5" r="5.5"/>
<circle cx="926.2" cy="2109.0" r="5.5"/>
<circle cx="926.2" cy="2144.9" r="5.5"/>
<circle cx="926.2" cy="2181.1" r="5.5"/>
<circle cx="926.2" cy="2190.9" r="5.5"/>
</g>
<line x1="206.25" y1="1823.70" x2="301.10" y2="1823.70" stroke="#231f20" stroke-width="4.6" stroke-linecap="butt" />
<line x1="330.00" y1="1823.70" x2="424.20" y2="1823.70" stroke="#231f20" stroke-width="4.6" stroke-linecap="butt" />
<line x1="452.70" y1="1823.70" x2="547.70" y2="1823.70" stroke="#231f20" stroke-width="4.6" stroke-linecap="butt" />
<line x1="725.50" y1="1823.70" x2="820.10" y2="1823.70" stroke="#231f20" stroke-width="4.6" stroke-linecap="butt" />
<g transform="translate(239.60,1799.35)" fill="#000"><polygon points="-1.35,0 -2.20,-9.60 -1.50,-10.30 1.50,-10.30 2.20,-9.60 1.35,0" transform="rotate(0)"/><polygon points="-1.35,0 -2.20,-9.60 -1.50,-10.30 1.50,-10.30 2.20,-9.60 1.35,0" transform="rotate(58)"/><polygon points="-1.35,0 -2.20,-9.60 -1.50,-10.30 1.50,-10.30 2.20,-9.60 1.35,0" transform="rotate(122)"/><polygon points="-1.35,0 -2.20,-9.60 -1.50,-10.30 1.50,-10.30 2.20,-9.60 1.35,0" transform="rotate(180)"/><polygon points="-1.35,0 -2.20,-9.60 -1.50,-10.30 1.50,-10.30 2.20,-9.60 1.35,0" transform="rotate(238)"/><polygon points="-1.35,0 -2.20,-9.60 -1.50,-10.30 1.50,-10.30 2.20,-9.60 1.35,0" transform="rotate(302)"/></g>
<g transform="translate(267.90,1799.35)" fill="#000"><polygon points="-1.35,0 -2.20,-9.60 -1.50,-10.30 1.50,-10.30 2.20,-9.60 1.35,0" transform="rotate(0)"/><polygon points="-1.35,0 -2.20,-9.60 -1.50,-10.30 1.50,-10.30 2.20,-9.60 1.35,0" transform="rotate(58)"/><polygon points="-1.35,0 -2.20,-9.60 -1.50,-10.30 1.50,-10.30 2.20,-9.60 1.35,0" transform="rotate(122)"/><polygon points="-1.35,0 -2.20,-9.60 -1.50,-10.30 1.50,-10.30 2.20,-9.60 1.35,0" transform="rotate(180)"/><polygon points="-1.35,0 -2.20,-9.60 -1.50,-10.30 1.50,-10.30 2.20,-9.60 1.35,0" transform="rotate(238)"/><polygon points="-1.35,0 -2.20,-9.60 -1.50,-10.30 1.50,-10.30 2.20,-9.60 1.35,0" transform="rotate(302)"/></g>
<g transform="translate(378.00,1799.35)" fill="#000"><polygon points="-1.35,0 -2.20,-9.60 -1.50,-10.30 1.50,-10.30 2.20,-9.60 1.35,0" transform="rotate(0)"/><polygon points="-1.35,0 -2.20,-9.60 -1.50,-10.30 1.50,-10.30 2.20,-9.60 1.35,0" transform="rotate(58)"/><polygon points="-1.35,0 -2.20,-9.60 -1.50,-10.30 1.50,-10.30 2.20,-9.60 1.35,0" transform="rotate(122)"/><polygon points="-1.35,0 -2.20,-9.60 -1.50,-10.30 1.50,-10.30 2.20,-9.60 1.35,0" transform="rotate(180)"/><polygon points="-1.35,0 -2.20,-9.60 -1.50,-10.30 1.50,-10.30 2.20,-9.60 1.35,0" transform="rotate(238)"/><polygon points="-1.35,0 -2.20,-9.60 -1.50,-10.30 1.50,-10.30 2.20,-9.60 1.35,0" transform="rotate(302)"/></g>
<g transform="translate(486.50,1799.35)" fill="#000"><polygon points="-1.35,0 -2.20,-9.60 -1.50,-10.30 1.50,-10.30 2.20,-9.60 1.35,0" transform="rotate(0)"/><polygon points="-1.35,0 -2.20,-9.60 -1.50,-10.30 1.50,-10.30 2.20,-9.60 1.35,0" transform="rotate(58)"/><polygon points="-1.35,0 -2.20,-9.60 -1.50,-10.30 1.50,-10.30 2.20,-9.60 1.35,0" transform="rotate(122)"/><polygon points="-1.35,0 -2.20,-9.60 -1.50,-10.30 1.50,-10.30 2.20,-9.60 1.35,0" transform="rotate(180)"/><polygon points="-1.35,0 -2.20,-9.60 -1.50,-10.30 1.50,-10.30 2.20,-9.60 1.35,0" transform="rotate(238)"/><polygon points="-1.35,0 -2.20,-9.60 -1.50,-10.30 1.50,-10.30 2.20,-9.60 1.35,0" transform="rotate(302)"/></g>
<g transform="translate(514.75,1799.35)" fill="#000"><polygon points="-1.35,0 -2.20,-9.60 -1.50,-10.30 1.50,-10.30 2.20,-9.60 1.35,0" transform="rotate(0)"/><polygon points="-1.35,0 -2.20,-9.60 -1.50,-10.30 1.50,-10.30 2.20,-9.60 1.35,0" transform="rotate(58)"/><polygon points="-1.35,0 -2.20,-9.60 -1.50,-10.30 1.50,-10.30 2.20,-9.60 1.35,0" transform="rotate(122)"/><polygon points="-1.35,0 -2.20,-9.60 -1.50,-10.30 1.50,-10.30 2.20,-9.60 1.35,0" transform="rotate(180)"/><polygon points="-1.35,0 -2.20,-9.60 -1.50,-10.30 1.50,-10.30 2.20,-9.60 1.35,0" transform="rotate(238)"/><polygon points="-1.35,0 -2.20,-9.60 -1.50,-10.30 1.50,-10.30 2.20,-9.60 1.35,0" transform="rotate(302)"/></g>
<g transform="translate(759.55,1799.35)" fill="#000"><polygon points="-1.35,0 -2.20,-9.60 -1.50,-10.30 1.50,-10.30 2.20,-9.60 1.35,0" transform="rotate(0)"/><polygon points="-1.35,0 -2.20,-9.60 -1.50,-10.30 1.50,-10.30 2.20,-9.60 1.35,0" transform="rotate(58)"/><polygon points="-1.35,0 -2.20,-9.60 -1.50,-10.30 1.50,-10.30 2.20,-9.60 1.35,0" transform="rotate(122)"/><polygon points="-1.35,0 -2.20,-9.60 -1.50,-10.30 1.50,-10.30 2.20,-9.60 1.35,0" transform="rotate(180)"/><polygon points="-1.35,0 -2.20,-9.60 -1.50,-10.30 1.50,-10.30 2.20,-9.60 1.35,0" transform="rotate(238)"/><polygon points="-1.35,0 -2.20,-9.60 -1.50,-10.30 1.50,-10.30 2.20,-9.60 1.35,0" transform="rotate(302)"/></g>
<g transform="translate(788.15,1799.35)" fill="#000"><polygon points="-1.35,0 -2.20,-9.60 -1.50,-10.30 1.50,-10.30 2.20,-9.60 1.35,0" transform="rotate(0)"/><polygon points="-1.35,0 -2.20,-9.60 -1.50,-10.30 1.50,-10.30 2.20,-9.60 1.35,0" transform="rotate(58)"/><polygon points="-1.35,0 -2.20,-9.60 -1.50,-10.30 1.50,-10.30 2.20,-9.60 1.35,0" transform="rotate(122)"/><polygon points="-1.35,0 -2.20,-9.60 -1.50,-10.30 1.50,-10.30 2.20,-9.60 1.35,0" transform="rotate(180)"/><polygon points="-1.35,0 -2.20,-9.60 -1.50,-10.30 1.50,-10.30 2.20,-9.60 1.35,0" transform="rotate(238)"/><polygon points="-1.35,0 -2.20,-9.60 -1.50,-10.30 1.50,-10.30 2.20,-9.60 1.35,0" transform="rotate(302)"/></g>
<text transform="translate(252.70,2253.30) scale(1,1.06)" font-size="40" font-weight="bold" text-anchor="middle" fill="#000" >0</text>
<text transform="translate(375.20,2253.30) scale(1,1.06)" font-size="40" font-weight="bold" text-anchor="middle" fill="#000" >0.2</text>
<text transform="translate(498.70,2253.30) scale(1,1.06)" font-size="40" font-weight="bold" text-anchor="middle" fill="#000" >2</text>
<text transform="translate(652.00,2253.30) scale(1,1.06)" font-size="40" font-weight="bold" text-anchor="middle" fill="#000" >0</text>
<text transform="translate(774.90,2253.30) scale(1,1.06)" font-size="40" font-weight="bold" text-anchor="middle" fill="#000" >0.2</text>
<text transform="translate(898.00,2253.30) scale(1,1.06)" font-size="40" font-weight="bold" text-anchor="middle" fill="#000" >2</text>
<line x1="199.70" y1="2261.40" x2="545.00" y2="2261.40" stroke="#231f20" stroke-width="4.8" stroke-linecap="round" />
<line x1="602.20" y1="2261.40" x2="948.30" y2="2261.40" stroke="#231f20" stroke-width="4.8" stroke-linecap="round" />
<text transform="translate(377.40,2299.50) scale(1,1.03)" font-size="40" font-weight="bold" text-anchor="middle" fill="#000" >VB</text>
<text transform="translate(777.30,2299.50) scale(1,1.03)" font-size="40" font-weight="bold" text-anchor="middle" fill="#000" >CS</text>
<text transform="translate(117.50,2243.10) scale(1,1.04)" font-size="31.4" font-weight="normal" text-anchor="middle" fill="#000" >OXT</text>
<text transform="translate(117.00,2272.90) scale(1,1.04)" font-size="25" font-weight="normal" text-anchor="middle" fill="#000" textLength="108.5" lengthAdjust="spacingAndGlyphs">(µg/20µL)</text>
<rect x="1075.30" y="1797.90" width="58.10" height="35.90" fill="#fff" stroke="#231f20" stroke-width="4.3" stroke-linejoin="miter" />
<rect x="1075.30" y="1858.40" width="58.10" height="36.20" fill="#fff" stroke="#231f20" stroke-width="4.3" stroke-linejoin="miter" />
<circle cx="1086.4" cy="1866.9" r="2.7" fill="#231f20"/>
<circle cx="1105.3" cy="1866.9" r="2.7" fill="#231f20"/>
<circle cx="1123.9" cy="1866.9" r="2.7" fill="#231f20"/>
<circle cx="1095.8" cy="1876.5" r="2.7" fill="#231f20"/>
<circle cx="1114.7" cy="1876.5" r="2.7" fill="#231f20"/>
<circle cx="1086.4" cy="1886.1" r="2.7" fill="#231f20"/>
<circle cx="1105.3" cy="1886.1" r="2.7" fill="#231f20"/>
<circle cx="1123.9" cy="1886.1" r="2.7" fill="#231f20"/>
<circle cx="1077.6" cy="1876.5" r="2.4" fill="#231f20"/>
<text transform="translate(1150.00,1830.90) scale(1,1.04)" font-size="40" font-weight="normal" text-anchor="start" fill="#000" >Familiar</text>
<text transform="translate(1150.00,1891.30) scale(1,1.04)" font-size="40" font-weight="normal" text-anchor="start" fill="#000" >Novel</text>
</svg>
</body></html>
